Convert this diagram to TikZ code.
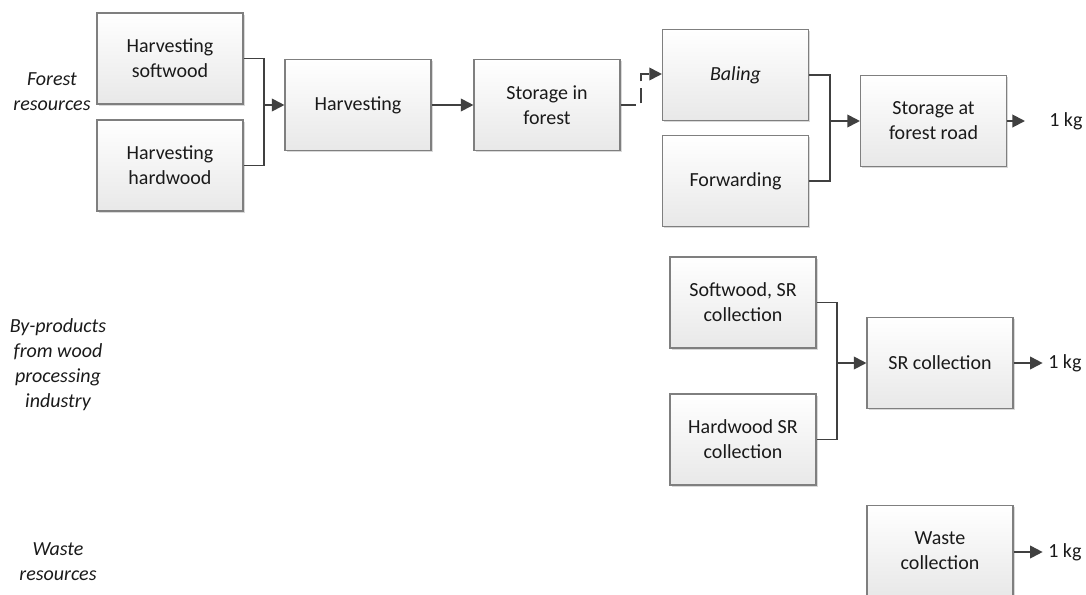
\documentclass[tikz,border=0pt]{standalone}
\usepackage{fontspec}
\setmainfont{Carlito}
\usetikzlibrary{arrows.meta, shadows}

\definecolor{boxline}{HTML}{7F7F7F}
\definecolor{boxfill}{HTML}{E8E8E8}
\definecolor{wire}{HTML}{404040}
\definecolor{txt}{HTML}{1A1A1A}

\begin{document}
\begin{tikzpicture}[x=0.75pt, y=-0.75pt,
    box/.style={draw=boxline, line width=0.8pt, top color=white, bottom color=boxfill,
        minimum width=109.5pt, minimum height=68.25pt, align=center, text=txt,
        font=\fontsize{15pt}{18.75pt}\selectfont,
        drop shadow={shadow xshift=1.3pt, shadow yshift=-1.3pt, fill=black!15, opacity=1}},
    side/.style={align=center, text=txt, font=\fontsize{15pt}{18.75pt}\selectfont\itshape},
    kg/.style={anchor=west, inner sep=0pt, text=txt, font=\fontsize{15pt}{18.75pt}\selectfont},
    wireline/.style={draw=wire, line width=1.4pt},
    arr/.style={wireline, -{Triangle[length=9.5pt, width=9.5pt]}},
    dashline/.style={dash pattern=on 11.5pt off 5pt}]

\useasboundingbox (0,0) rectangle (1086,594);

% Row labels
\node[side] (forest) at (52,92) {Forest\\resources};
\node[side] (byprod) at (58,365) {By-products\\from wood\\processing\\industry};
\node[side] (wasteres) at (58,562) {Waste\\resources};

% Forest resources chain
\node[box] (hsoft) at (170,58.5) {Harvesting\\softwood};
\node[box] (hhard) at (170,165.5) {Harvesting\\hardwood};
\node[box] (harv) at (358,105) {Harvesting};
\node[box] (sforest) at (547,105) {Storage in\\forest};
\node[box] (baling) at (735.5,75) {\textit{Baling}};
\node[box] (forward) at (735.5,181) {Forwarding};
\node[box] (sroad) at (933.5,121) {Storage at\\forest road};

% By-products chain
\node[box] (ssr) at (743,302.5) {Softwood, SR\\collection};
\node[box] (hsr) at (743,439.5) {Hardwood SR\\collection};
\node[box] (srcoll) at (940,363) {SR collection};

% Waste chain
\node[box] (waste) at (940,551) {Waste\\collection};

% Outputs
\node[kg] (kg1) at (1049,121) {1 kg};
\node[kg] (kg2) at (1048,363) {1 kg};
\node[kg] (kg3) at (1048,552) {1 kg};

% Junctions
\coordinate (j1) at (264,105);
\coordinate (j2) at (641,74);
\coordinate (j3) at (830,121);
\coordinate (j4) at (837,363);

% Connectors
\draw[wireline] (hsoft.east) -| (j1) |- (hhard.east);
\draw[arr] (j1) -- (harv.west);
\draw[arr] (harv) -- (sforest);
\draw[arr, dashline] (sforest.east) -| (j2) -- (j2 -| baling.west);
\draw[wireline] (baling.east) -| (j3) |- (forward.east);
\draw[arr] (j3) -- (sroad.west);
\draw[wireline] (ssr.east) -| (j4) |- (hsr.east);
\draw[arr] (j4) -- (srcoll.west);

\foreach \from/\to/\gap in {sroad/kg1/18pt, srcoll/kg2/4pt, waste/kg3/4pt}
{
    \draw[arr, shorten >=\gap] (\from.east |- \to.west) -- (\to.west);
}

\end{tikzpicture}
\end{document}
